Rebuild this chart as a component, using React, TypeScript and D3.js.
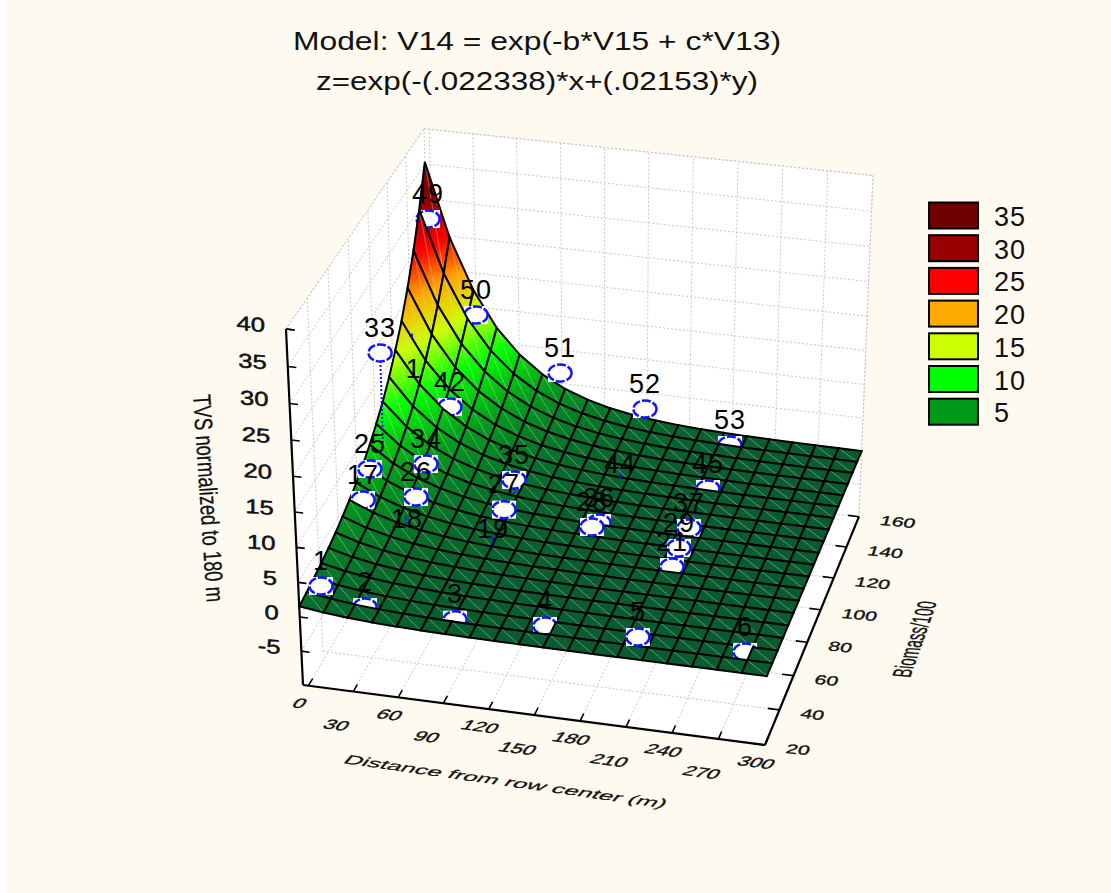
import React from 'react';
import * as d3 from 'd3';

const W = 1111, H = 893;
const xTicks = [0, 30, 60, 90, 120, 150, 180, 210, 240, 270, 300];
const yTicks = [20, 40, 60, 80, 100, 120, 140, 160];
const zTicks = [-5, 0, 5, 10, 15, 20, 25, 30, 35, 40];
const legendValues = [35, 30, 25, 20, 15, 10, 5];
const legendColors = ['#700000', '#990000', '#ff0000', '#ffaa00', '#ccff00', '#00ff00', '#009a1a'];
const colorStops = [0, 5, 10, 15, 20, 25, 30, 35];
const colorRamp = ['#095c30', '#009a1a', '#00ff00', '#ccff00', '#ffaa00', '#ff0000', '#990000', '#700000'];

// fitted surface read along its x=0 edge and along its fall with distance
const edgeAtZeroDistance = [1.54, 1.82, 2.14, 2.52, 2.97, 3.51, 4.14, 4.88, 5.75, 6.78, 8.0, 9.43, 11.1, 13.1, 15.5, 18.2, 21.5, 25.4, 29.9, 35.3];
const decayWithDistance = [1, 0.703, 0.494, 0.347, 0.244, 0.171, 0.12, 0.0847, 0.0595, 0.0418, 0.0294, 0.0207, 0.0145, 0.0102, 0.0072, 0.005, 0.0035, 0.0025, 0.0018, 0.0012];

// observed points
const pointLabels = ['1', '2', '3', '4', '5', '6', '17', '25', '26', '34', '18', '19', '27', '35', '28', '36', '44', '45', '37', '29', '21', '53', '52', '51', '50', '49', '33', '42', '1'];
const pointX = [9.7, 37.8, 94.8, 153.5, 214.9, 281.6, 8.7, 6.8, 38.5, 35.9, 35.7, 92.8, 96.2, 92.7, 153.6, 155.7, 152.1, 211.5, 213.9, 214.1, 212.5, 212.8, 150.7, 90.5, 36.5, 5.1, 6.6, 36.4, 6.6];
const pointY = [27.3, 27.8, 30.5, 30, 26.7, 29.8, 72.3, 83, 81.3, 96.8, 74.8, 76, 83.4, 101.3, 85.8, 90.7, 124.1, 124.8, 94, 80.3, 74.6, 153, 159.4, 161.4, 154.5, 153.9, 97.5, 123.3, 131];
const pointZ = [2.99, 0.6, -0.3, 0.56, 1.52, 0.5, 4.95, 7.01, 4.11, 5.4, -1.4, -1.62, 3.3, 3.5, 1.72, 1.23, -1.46, -0.06, 1.27, 1.55, 0.05, 0.26, 2.72, 6.22, 15.02, 28.41, 20.65, 7.99, 7.44];

const xNorm = d3.scaleLinear().domain([0, 300]).range([0, 1]);
const yNorm = d3.scaleLinear().domain([20, 160]).range([0, 1]);
const zNorm = d3.scaleLinear().domain([-10, 40]).range([0, 1]);
const xTickNorm = d3.scaleLinear().domain([0, 300]).range([0.012, 1]);
const color = d3.scaleLinear<string>().domain(colorStops).range(colorRamp);
const N = edgeAtZeroDistance.length - 1;

// perspective view of the unit cube
function project(u: number, v: number, w: number): [number, number] {
  const d = 1 - 0.0205 * u + 0.0883 * v - 0.0545 * w;
  return [(303 + 446.3 * u + 167.9 * v - 32.6 * w) / d, (685 + 44.7 * u - 178 * v - 373.9 * w) / d];
}
const gridZ = (i: number, j: number) => edgeAtZeroDistance[j] * decayWithDistance[i];
function surfaceAt(u: number, v: number) {
  const a = Math.max(0, Math.min(N - 1e-6, u * N)), b = Math.max(0, Math.min(N - 1e-6, v * N));
  const i = Math.floor(a), j = Math.floor(b), s = a - i, t = b - j;
  return (1 - s) * (1 - t) * gridZ(i, j) + s * (1 - t) * gridZ(i + 1, j) + (1 - s) * t * gridZ(i, j + 1) + s * t * gridZ(i + 1, j + 1);
}

type P = [number, number, number];
function tri(p: P, q: P, r: P, out: { d: string; fill: string }[], depth = 0) {
  const zs = [p[2], q[2], r[2]];
  if (depth < 4 && d3.max(zs)! - d3.min(zs)! > 0.8) {
    const m = (a: P, b: P): P => [(a[0] + b[0]) / 2, (a[1] + b[1]) / 2, (a[2] + b[2]) / 2];
    const pq = m(p, q), qr = m(q, r), rp = m(r, p);
    tri(p, pq, rp, out, depth + 1);
    tri(pq, q, qr, out, depth + 1);
    tri(rp, qr, r, out, depth + 1);
    tri(pq, qr, rp, out, depth + 1);
    return;
  }
  const pts = [p, q, r].map((a) => project(a[0], a[1], zNorm(a[2])));
  out.push({ d: d3.line()(pts)! + 'Z', fill: color(d3.mean(zs)!) });
}

const BLUE = '#1414ff';
const GRID = '#c8c8c8';

function Marker({ k }: { k: number }) {
  const u = xNorm(pointX[k]), v = yNorm(pointY[k]);
  const [sx, sy] = project(u, v, zNorm(pointZ[k]));
  const foot = project(u, v, zNorm(surfaceAt(u, v)));
  return (
    <g>
      <line x1={sx} y1={sy} x2={foot[0]} y2={foot[1]} stroke={BLUE} strokeWidth={2} strokeDasharray="2 2" />
      <rect x={sx - 12} y={sy - 9} width={24} height={18} fill="#fff" />
      <ellipse cx={sx} cy={sy} rx={11.5} ry={8.5} fill="#fff" stroke={BLUE} strokeWidth={2.5} strokeDasharray="9 2" />
    </g>
  );
}

function Walls() {
  const poly = (pts: [number, number, number][]) => d3.line()(pts.map((p) => project(p[0], p[1], p[2])))! + 'Z';
  const seg = (a: [number, number, number], b: [number, number, number], key: string) => {
    const p = project(a[0], a[1], a[2]), q = project(b[0], b[1], b[2]);
    return <line key={key} x1={p[0]} y1={p[1]} x2={q[0]} y2={q[1]} stroke={GRID} strokeWidth={1} strokeDasharray="2 2" />;
  };
  return (
    <g>
      <path d={poly([[0, 0, 0], [0, 1, 0], [0, 1, 1], [0, 0, 1]])} fill="#fff" />
      <path d={poly([[0, 1, 0], [1, 1, 0], [1, 1, 1], [0, 1, 1]])} fill="#fff" />
      <path d={poly([[0, 0, 0], [1, 0, 0], [1, 1, 0], [0, 1, 0]])} fill="#fff" />
      {xTicks.map((t) => {
        const u = xTickNorm(t);
        return <g key={'gx' + t}>{seg([u, 0, 0], [u, 1, 0], 'f')}{seg([u, 1, 0], [u, 1, 1], 'b')}</g>;
      })}
      {yTicks.map((t) => {
        const v = yNorm(t);
        return <g key={'gy' + t}>{seg([0, v, 0], [1, v, 0], 'f')}{seg([0, v, 0], [0, v, 1], 'l')}</g>;
      })}
      {zTicks.map((t) => {
        const w = zNorm(t);
        return <g key={'gz' + t}>{seg([0, 0, w], [0, 1, w], 'l')}{seg([0, 1, w], [1, 1, w], 'b')}</g>;
      })}
      {seg([0, 0, 1], [0, 1, 1], 'e1')}
      {seg([0, 1, 1], [1, 1, 1], 'e2')}
      {seg([1, 1, 1], [1, 1, 0], 'e3')}
    </g>
  );
}

function Axes() {
  const line = (a: [number, number], b: [number, number], key: string, sw = 2) => (
    <line key={key} x1={a[0]} y1={a[1]} x2={b[0]} y2={b[1]} stroke="#000" strokeWidth={sw} />
  );
  const tickText = { fontSize: 20, fill: '#111', stroke: '#111', strokeWidth: 0.5 };
  return (
    <g>
      {line(project(0, 0, 1), project(0, 0, 0), 'za', 2.2)}
      {line(project(0, 0, 0), project(1, 0, 0), 'xa', 2.2)}
      {line(project(1, 0, 0), project(1, 1, 0), 'ya', 2.2)}
      {zTicks.map((t) => {
        const p = project(0, 0, zNorm(t));
        const q = project(0.018, 0, zNorm(t));
        return (
          <g key={'zt' + t}>
            {line(p, q, 't', 1.6)}
            <text textAnchor="end" {...tickText} transform={`matrix(1.28 0.1 0 1 ${p[0] - 21} ${p[1] + 3})`}>{t}</text>
          </g>
        );
      })}
      {line(project(0, 0, 1), project(0.018, 0, 1), 'ztop', 1.6)}
      {xTicks.map((t, i) => {
        const p = project(xTickNorm(t), 0, 0);
        const q = project(xTickNorm(t), 0.03, 0);
        const dy = i % 2 === 0 ? 22 : 38;
        const dx = i % 2 === 0 ? -12 : -20;
        return (
          <g key={'xt' + t}>
            {line(p, q, 't', 1.6)}
            <text textAnchor="middle" {...tickText} transform={`matrix(1.05 0.14 -0.5 0.65 ${p[0] + dx} ${p[1] + dy})`}>{t}</text>
          </g>
        );
      })}
      {yTicks.map((t) => {
        const p = project(1, yNorm(t), 0);
        const q = project(0.975, yNorm(t), 0);
        return (
          <g key={'yt' + t}>
            {line(p, q, 't', 1.6)}
            <text {...tickText} transform={`matrix(1.05 0.1 -0.2 0.65 ${p[0] + 20} ${p[1] + 8})`}>{t}</text>
          </g>
        );
      })}
      <text fontSize={20} fill="#111" stroke="#111" strokeWidth={0.3} textLength={240} lengthAdjust="spacingAndGlyphs" transform="matrix(1.3375 0.1875 -0.5 0.58 342 763)">Distance from row center (m)</text>
      <text fontSize={20} fill="#111" stroke="#111" strokeWidth={0.3} textLength={87} lengthAdjust="spacingAndGlyphs" transform="matrix(0.31 -0.874 1.3 0.1 910 678)">Biomass/100</text>
      <text fontSize={25} fill="#111" stroke="#111" strokeWidth={0.3} textLength={208} lengthAdjust="spacingAndGlyphs" transform="translate(193 395) rotate(86.2)">TVS normalized to 180 m</text>
    </g>
  );
}

export default function App() {
  const cells: React.ReactNode[] = [];
  const pointCell = pointLabels.map((_, k) => [
    Math.max(0, Math.min(N - 1, Math.floor(xNorm(pointX[k]) * N))),
    Math.max(0, Math.min(N - 1, Math.floor(yNorm(pointY[k]) * N))),
  ]);
  for (let j = N - 1; j >= 0; j--) {
    for (let i = 0; i < N; i++) {
      const c = (ii: number, jj: number): P => [ii / N, jj / N, gridZ(ii, jj)];
      const a = c(i, j), b = c(i + 1, j), e = c(i + 1, j + 1), f = c(i, j + 1);
      const out: { d: string; fill: string }[] = [];
      tri(f, a, b, out);
      tri(f, b, e, out);
      const s = [a, b, e, f].map((p) => project(p[0], p[1], zNorm(p[2])));
      cells.push(
        <g key={i + '-' + j}>
          {out.map((o, k) => <path key={k} d={o.d} fill={o.fill} stroke={o.fill} strokeWidth={0.7} />)}
          <line x1={s[3][0]} y1={s[3][1]} x2={s[1][0]} y2={s[1][1]} stroke="#cfe8cf" strokeOpacity={0.55} strokeWidth={0.7} />
          <path d={d3.line()(s)! + 'Z'} fill="none" stroke="#000" strokeWidth={2} />
          {pointLabels.map((_, k) => (pointCell[k][0] === i && pointCell[k][1] === j ? <Marker key={'m' + k} k={k} /> : null))}
        </g>
      );
    }
  }
  return (
    <svg width={W} height={H} style={{ position: 'absolute', left: 0, top: 0 }} fontFamily="Liberation Sans">
      <rect x={6} y={0} width={W} height={H} fill="#fffaf0" />
      <Walls />
      <Axes />
      {cells}
      {pointLabels.map((t, k) => {
        const u = xNorm(pointX[k]), v = yNorm(pointY[k]);
        const surface = surfaceAt(u, v);
        const [sx, sy] = project(u, v, zNorm(pointZ[k]));
        const foot = project(u, v, zNorm(surface));
        return (
          <g key={'l' + k}>
            {pointZ[k] < surface - 1 ? <rect x={foot[0] - 1} y={foot[1] - 2} width={2} height={4} fill={BLUE} /> : null}
            <text x={sx} y={sy - 26} dy="0.36em" textAnchor="middle" fontSize={27} letterSpacing={1} fill="#000">{t}</text>
          </g>
        );
      })}
      <text x={537} y={50} textAnchor="middle" fontSize={25} textLength={488} lengthAdjust="spacingAndGlyphs" fill="#111">Model: V14 = exp(-b*V15 + c*V13)</text>
      <text x={537} y={90} textAnchor="middle" fontSize={25} textLength={442} lengthAdjust="spacingAndGlyphs" fill="#111">z=exp(-(.022338)*x+(.02153)*y)</text>
      {legendValues.map((t, i) => (
        <g key={t}>
          <rect x={929} y={202.5 + i * 32.7} width={49} height={26} fill={legendColors[i]} stroke="#000" strokeWidth={2} />
          <text x={994} y={226 + i * 32.7} fontSize={27} letterSpacing={1} fill="#111">{t}</text>
        </g>
      ))}
    </svg>
  );
}
